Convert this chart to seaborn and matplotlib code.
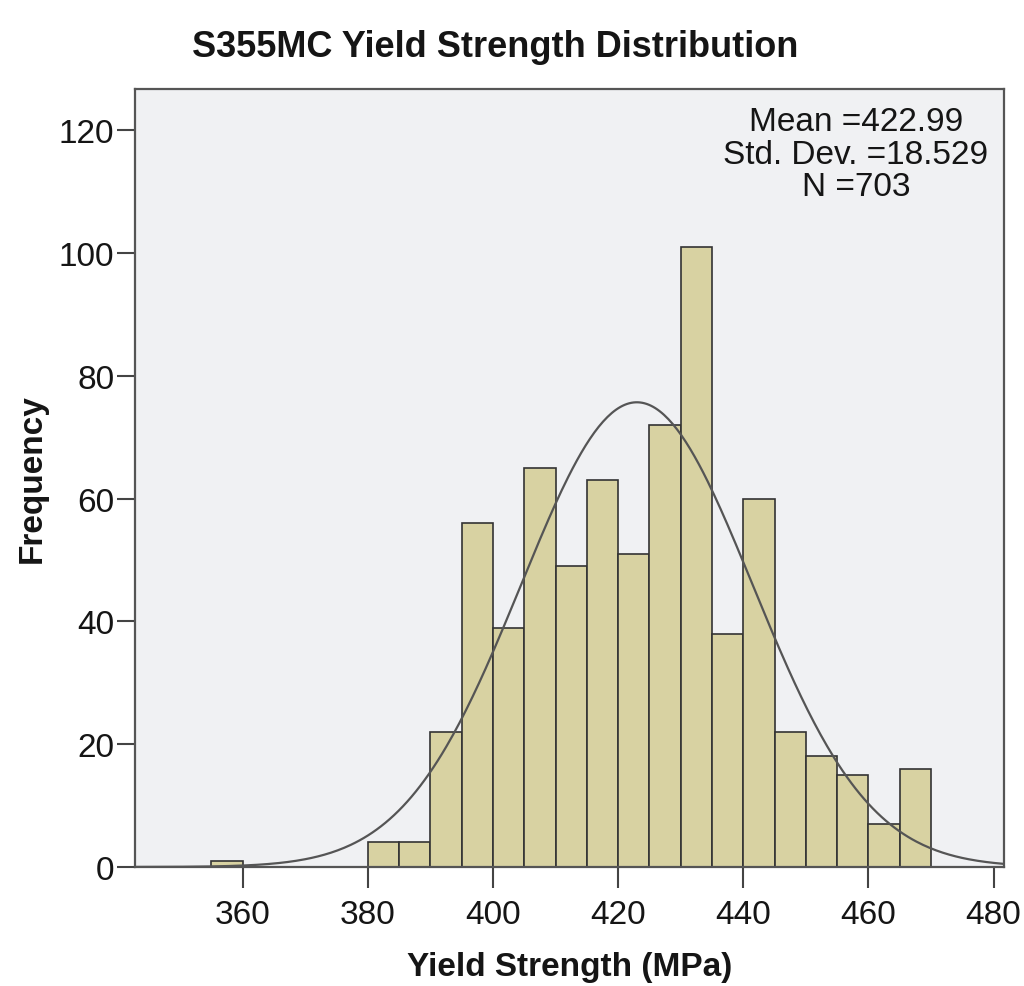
import numpy as np
import pandas as pd
import seaborn as sns
import matplotlib.pyplot as plt

# bin left edges (width 5 MPa) and counts
bin_left = [355, 360, 365, 370, 375, 380, 385, 390, 395, 400, 405, 410, 415,
            420, 425, 430, 435, 440, 445, 450, 455, 460, 465]
counts = [1, 0, 0, 0, 0, 4, 4, 22, 56, 39, 65, 49, 63,
          51, 72, 101, 38, 60, 22, 18, 15, 7, 16]

mean_val = 422.99
std_val = 18.529
n_val = 703
bin_width = 5

x_ticks = [360, 380, 400, 420, 440, 460, 480]
y_ticks = [0, 20, 40, 60, 80, 100, 120]

sns.set_theme(style="white")
plt.rcParams['font.family'] = ['Liberation Sans', 'DejaVu Sans']
txt = "#151515"

df = pd.DataFrame({"ys": np.array(bin_left) + bin_width / 2, "n": counts})

fig = plt.figure(figsize=(10.24, 9.87), dpi=100)
ax = fig.add_axes([0.132, 0.1206, 0.848, 0.7882])
ax.set_facecolor("#F0F1F3")

sns.histplot(data=df, x="ys", weights="n", binwidth=bin_width,
             binrange=(355, 470), color="#D8D2A2", alpha=1,
             edgecolor="#333333", linewidth=1.2, ax=ax)

# fitted normal curve scaled to counts
xs = np.linspace(342.8, 481.6, 400)
ys = n_val * bin_width / (std_val * np.sqrt(2 * np.pi)) * np.exp(-0.5 * ((xs - mean_val) / std_val) ** 2)
sns.lineplot(x=xs, y=ys, color="#555555", linewidth=1.6, ax=ax)

ax.set_xlim(342.8, 481.6)
ax.set_ylim(0, 126.7)
ax.set_xticks(x_ticks)
ax.set_yticks(y_ticks)
ax.tick_params(axis="x", direction="out", length=15, width=1.5, color="#444444",
               labelsize=24, pad=8, bottom=True, labelcolor=txt)
ax.tick_params(axis="y", direction="out", length=13, width=1.5, color="#444444",
               labelsize=24, pad=2, left=True, labelcolor=txt)
for s in ax.spines.values():
    s.set_visible(True)
    s.set_color("#555555")
    s.set_linewidth(1.6)

ax.set_xlabel("Yield Strength (MPa)", fontsize=24, fontweight="bold", labelpad=15, color=txt)
ax.set_ylabel("Frequency", fontsize=24, fontweight="bold", labelpad=8, color=txt)
ax.set_title("S355MC Yield Strength Distribution", fontsize=26, fontweight="bold",
             pad=24, color=txt, x=0.415)

ax.text(0.83, 0.978, f"Mean ={mean_val:.2f}\nStd. Dev. ={std_val:.3f}\nN ={n_val}",
        transform=ax.transAxes, ha="center", va="top", fontsize=24,
        linespacing=1.07, color=txt)

plt.savefig("out.png", dpi=100)
